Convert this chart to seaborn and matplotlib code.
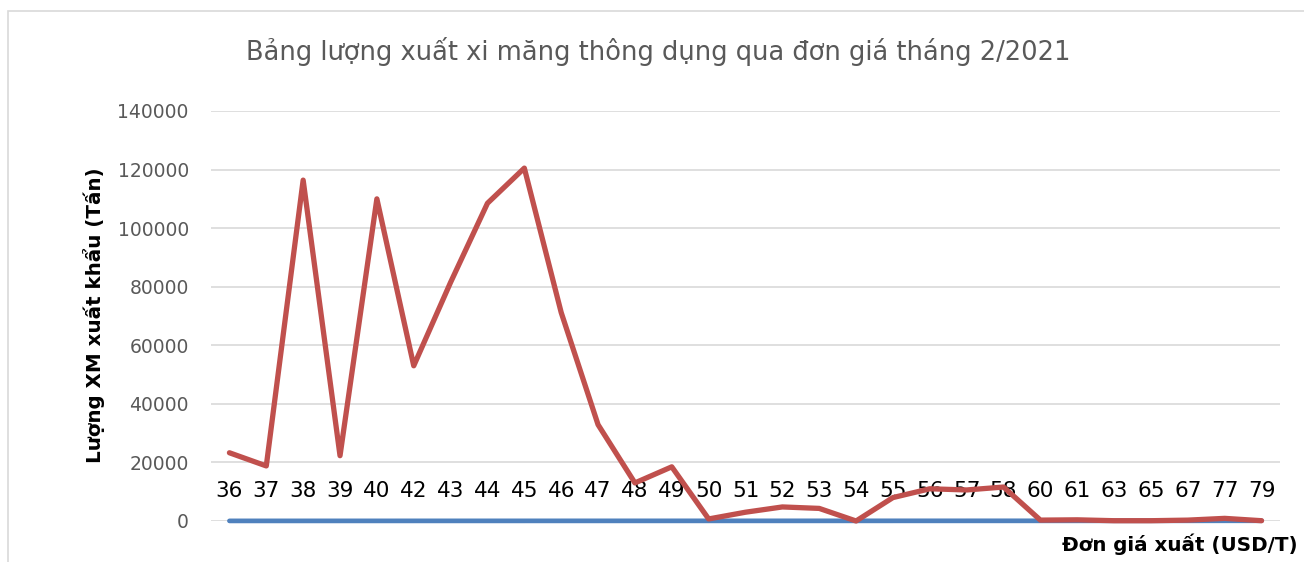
import pandas as pd
import matplotlib
matplotlib.use('Agg')
import matplotlib.pyplot as plt
import seaborn as sns

# Giá xuất (USD/T) và lượng xuất (Tấn)
prices = ['36', '37', '38', '39', '40', '42', '43', '44', '45', '46', '47', '48', '49', '50',
          '51', '52', '53', '54', '55', '56', '57', '58', '60', '61', '63', '65', '67', '77', '79']
volumes = [23300, 18800, 116400, 22300, 110000, 53000, 81500, 108500, 120500, 71200, 32900,
           13000, 18500, 700, 3000, 4800, 4300, 0, 8000, 11000, 10600, 11600, 300, 400,
           100, 100, 300, 900, 100]
price_values = [int(p) for p in prices]

y_ticks = [0, 20000, 40000, 60000, 80000, 100000, 120000, 140000]

sns.set_style('white')
plt.rcParams['font.family'] = ['DejaVu Sans']

df = pd.DataFrame({'pos': range(len(prices)), 'price': price_values, 'volume': volumes})

fig = plt.figure(figsize=(13.04, 5.62), dpi=100)
ax = fig.add_axes([211 / 1304, 1 - 521 / 562, (1280 - 211) / 1304, (521 - 111) / 562])

for y in y_ticks:
    ax.axhline(y, color='#D9D9D9', lw=1.2, zorder=0)

sns.lineplot(data=df, x='pos', y='price', ax=ax, color='#4F81BD', lw=3.4,
             solid_capstyle='round', zorder=3, clip_on=False)
sns.lineplot(data=df, x='pos', y='volume', ax=ax, color='#C0504D', lw=3.8,
             solid_capstyle='round', solid_joinstyle='round', zorder=4, clip_on=False)

ax.set_xlim(-0.5, len(prices) - 0.5)
ax.set_ylim(0, 140000)
ax.set_yticks(y_ticks)
ax.set_yticklabels([str(v) for v in y_ticks], color='#595959', fontsize=13.5)
ax.set_xticks(range(len(prices)))
ax.set_xticklabels(prices, color='black', fontsize=15.5)
ax.tick_params(axis='x', length=0, pad=-29)
ax.tick_params(axis='y', length=0, pad=16)
for s in ax.spines.values():
    s.set_visible(False)
ax.set_xlabel('')
ax.set_ylabel('')

fig.text(658 / 1304, 1 - 52 / 562, 'Bảng lượng xuất xi măng thông dụng qua đơn giá tháng 2/2021',
         ha='center', va='center', fontsize=18.5, color='#595959')
fig.text(94 / 1304, 1 - 315 / 562, 'Lượng XM xuất khẩu (Tấn)', rotation=90,
         ha='center', va='center', fontsize=14.3, fontweight='bold', color='black')
fig.text(1298 / 1304, 1 - 544 / 562, 'Đơn giá xuất (USD/T)', ha='right', va='center',
         fontsize=14.3, fontweight='bold', color='black')

border = plt.Rectangle((8 / 1304, -0.02), 1.0, 1 - 11 / 562 + 0.02, transform=fig.transFigure,
                       fill=False, edgecolor='#D9D9D9', lw=1.2)
fig.patches.append(border)

fig.savefig('out.png', dpi=100)
